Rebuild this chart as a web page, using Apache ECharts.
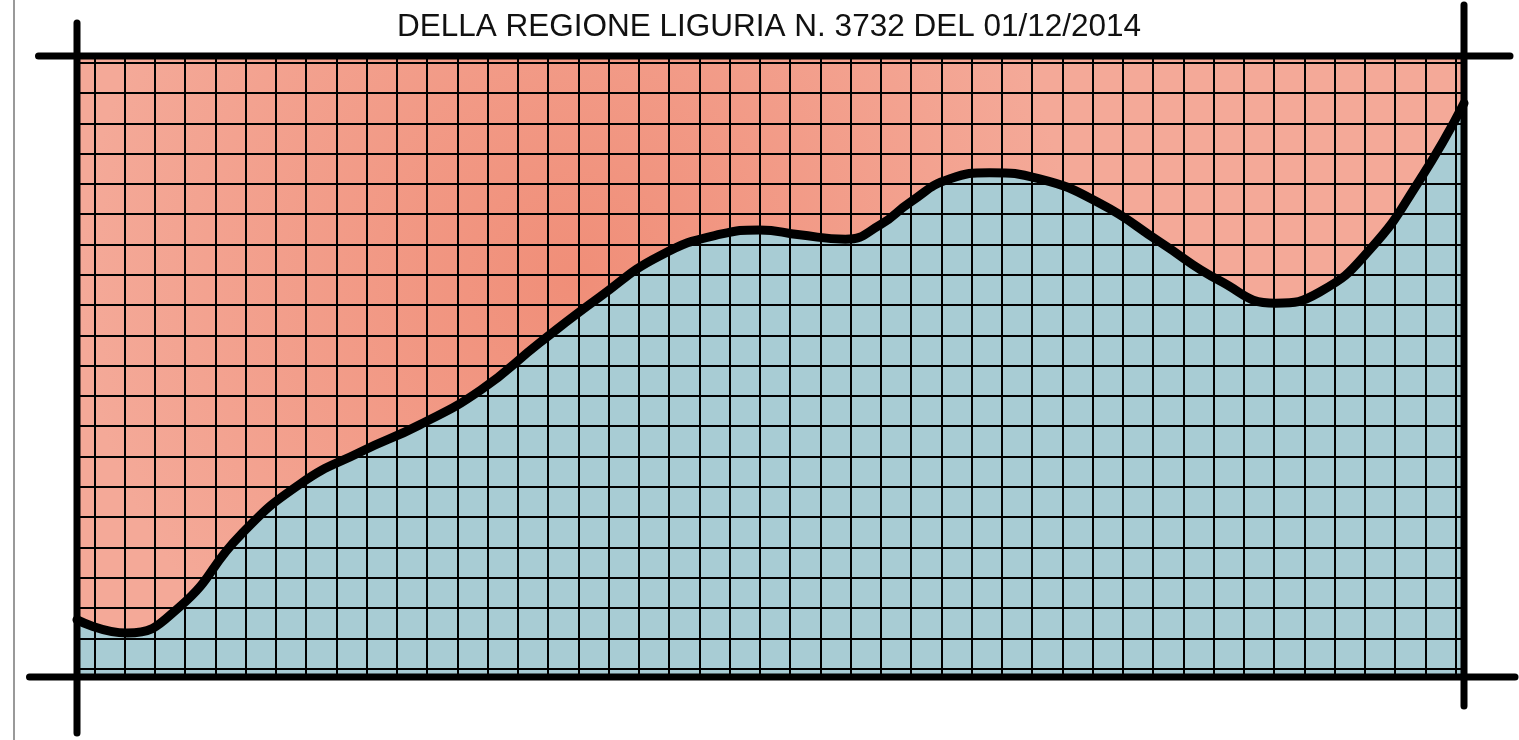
<!DOCTYPE html>
<html>
<head>
<meta charset="utf-8">
<script src="https://cdn.jsdelivr.net/npm/echarts@6/dist/echarts.min.js"></script>
<style>
  html, body { margin: 0; padding: 0; background: #fff; }
  #chart { width: 1519px; height: 740px; }
</style>
</head>
<body>
<div id="chart"></div>
<script>
const titleText = 'DELLA REGIONE LIGURIA N. 3732 DEL 01/12/2014'

// curve: x and y in % of the plot box
const curveX = [0, 3.6, 7.4, 11.8, 16.1, 20.4, 24.7, 29.1, 33.4, 37.7, 42.0, 46.4, 49.2, 52.1, 55.4,
  57.9, 60.1, 62.9, 65.8, 69.4, 73.8, 78.1, 82.4, 86.4, 89.6, 93.2, 96.8, 100]
const curveY = [9.2, 7.1, 11.3, 22.9, 31.1, 36.2, 40.6, 46.2, 53.9, 61.2, 67.8, 71.3, 72.0, 71.2, 70.5,
  72.8, 76.5, 80.2, 81.2, 80.2, 76.2, 70.0, 63.8, 60.2, 62.0, 68.8, 80.0, 92.4]

// paper grid: number of cells
const gridCols = 45
const gridRows = 20

const plot = { left: 77, top: 56, right: 1464, bottom: 677 }
const data = curveX.map((x, i) => [x, curveY[i]])

const chart = echarts.init(document.getElementById('chart'))

const thick = { stroke: '#000', lineWidth: 7, lineCap: 'round' }
const gridLine = { show: true, lineStyle: { color: '#000', width: 2 } }
const hidden = { axisLine: { show: false }, axisTick: { show: false }, axisLabel: { show: false } }

chart.setOption({
  animation: false,
  title: {
    text: titleText,
    left: 392,
    top: 6,
    textStyle: { fontFamily: 'Liberation Sans', fontSize: 31.5, fontWeight: 'normal', color: '#111' },
  },
  grid: [
    {
      left: plot.left, top: plot.top,
      width: plot.right - plot.left, height: plot.bottom - plot.top,
      show: true, borderWidth: 0,
      backgroundColor: new echarts.graphic.RadialGradient(0.36, 0.36, 0.8, [
        { offset: 0, color: '#f08e78' },
        { offset: 1, color: '#f4a998' },
      ]),
    },
    // vertical paper lines, full plot height
    { left: 94.3, width: 1361.4, top: plot.top, height: plot.bottom - plot.top, show: false },
    // horizontal paper lines, full plot width
    { left: plot.left, width: plot.right - plot.left, top: 62.7, height: 605.9, show: false },
  ],
  xAxis: [
    { type: 'value', gridIndex: 0, min: 0, max: 100, show: false },
    { type: 'value', gridIndex: 1, min: 0, max: gridCols, interval: 1, z: 3, ...hidden, splitLine: gridLine },
    { type: 'value', gridIndex: 2, min: 0, max: 1, show: false },
  ],
  yAxis: [
    { type: 'value', gridIndex: 0, min: 0, max: 100, show: false },
    { type: 'value', gridIndex: 1, min: 0, max: 1, show: false },
    { type: 'value', gridIndex: 2, min: 0, max: gridRows, interval: 1, z: 3, ...hidden, splitLine: gridLine },
  ],
  series: [
    {
      type: 'line', data, smooth: 0.5, symbol: 'none', z: 2,
      lineStyle: { width: 0 },
      areaStyle: { color: '#a8ccd4', opacity: 1 },
    },
    {
      type: 'line', data, smooth: 0.5, symbol: 'none', z: 5, clip: false,
      lineStyle: { width: 9, color: '#000', cap: 'round', join: 'round' },
    },
  ],
  graphic: [
    { type: 'line', z: 100, shape: { x1: 14, y1: 0, x2: 14, y2: 740 }, style: { stroke: '#777', lineWidth: 1.5 } },
    { type: 'line', z: 100, shape: { x1: 38.5, y1: plot.top, x2: 1510, y2: plot.top }, style: thick },
    { type: 'line', z: 100, shape: { x1: 29.5, y1: plot.bottom, x2: 1515, y2: plot.bottom }, style: thick },
    { type: 'line', z: 100, shape: { x1: plot.left, y1: 23, x2: plot.left, y2: 733 }, style: thick },
    { type: 'line', z: 100, shape: { x1: plot.right, y1: 5, x2: plot.right, y2: 706 }, style: thick },
  ],
})
</script>
</body>
</html>
